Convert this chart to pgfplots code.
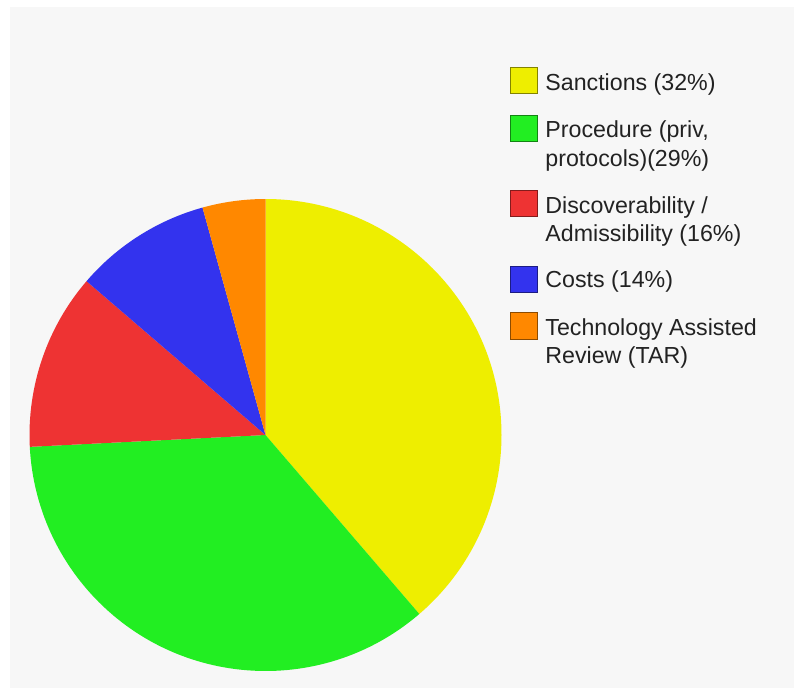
\documentclass[border=0pt]{standalone}
\usepackage{pgfplots}
\pgfplotsset{compat=1.18}
\usepackage{fontspec}
\setmainfont{Liberation Sans}
\definecolor{bgc}{HTML}{F7F7F7}
\definecolor{cyel}{HTML}{EEEE00}
\definecolor{cgrn}{HTML}{22EE22}
\definecolor{cred}{HTML}{EE3333}
\definecolor{cblu}{HTML}{3333EE}
\definecolor{corg}{HTML}{FF8800}
\definecolor{txt}{HTML}{222222}
% slice shares in percent (clockwise from 12 o'clock)
\def\vA{38.7}\def\vB{35.5}\def\vC{12.1}\def\vD{9.4}\def\vE{4.3}
\newcommand{\slice}[3]{%
  \fill[#3] (axis cs:265.5,253) -- ++({90-3.6*(#1)}:118pt)
    arc[start angle={90-3.6*(#1)}, end angle={90-3.6*(#2)}, radius=118pt] -- cycle;}
\newcommand{\legsq}[3]{%
  \filldraw[fill=#3, draw=#3!55!black, line width=0.5pt]
    (axis cs:510.7,{688-#1}) rectangle (axis cs:537.7,{688-#2});}
\newcommand{\legtx}[2]{%
  \node[anchor=base west, inner sep=0pt, text=txt,
        font=\fontsize{11.6}{14}\selectfont] at (axis cs:545,{688-#1}) {#2};}
\begin{document}
\begin{tikzpicture}
\begin{axis}[
  width=397pt, height=344pt, scale only axis,
  xmin=0, xmax=794, ymin=0, ymax=688,
  hide axis, clip=false]
\fill[white] (axis cs:0,0) rectangle (axis cs:794,688);
\fill[bgc] (axis cs:10,0) rectangle (axis cs:794,681);
\slice{0}{\vA}{cyel}
\slice{\vA}{\vA+\vB}{cgrn}
\slice{\vA+\vB}{\vA+\vB+\vC}{cred}
\slice{\vA+\vB+\vC}{\vA+\vB+\vC+\vD}{cblu}
\slice{\vA+\vB+\vC+\vD}{100}{corg}
% legend
\legsq{67.7}{94}{cyel}
\legsq{115}{141.7}{cgrn}
\legsq{190}{216.7}{cred}
\legsq{266}{292.3}{cblu}
\legsq{312.7}{339.3}{corg}
\legtx{90.7}{Sanctions (32\%)}
\legtx{137.3}{Procedure (priv,}
\legtx{166.2}{protocols)(29\%)}
\legtx{213.3}{Discoverability /}
\legtx{241.7}{Admissibility (16\%)}
\legtx{287.3}{Costs (14\%)}
\legtx{335}{Technology Assisted}
\legtx{363.5}{Review (TAR)}
\end{axis}
\end{tikzpicture}
\end{document}
